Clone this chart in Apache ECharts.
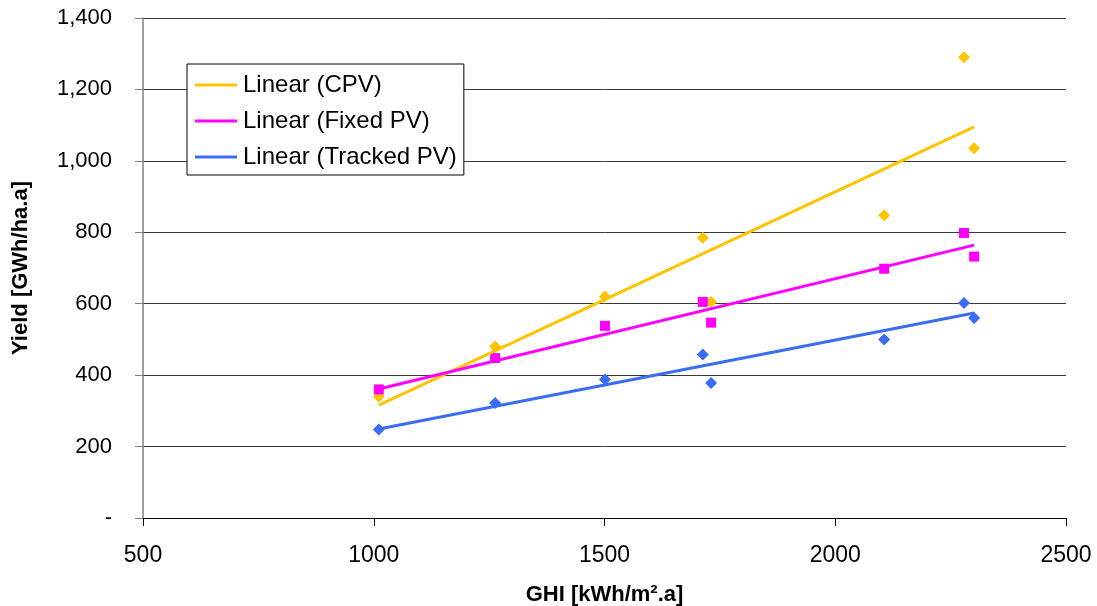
<!DOCTYPE html>
<html><head><meta charset="utf-8">
<script src="https://cdn.jsdelivr.net/npm/echarts@6/dist/echarts.min.js"></script>
<style>html,body{margin:0;padding:0;background:#fff}#c{width:1097px;height:606px}</style>
</head><body><div id="c"></div>
<script>
const ghi = [1011, 1263, 1501, 1713, 1731, 2106, 2279, 2301];
const cpv = [340, 480, 620, 785, 605, 848, 1290, 1035];
const fixedPV = [360, 448, 538, 605, 547, 698, 798, 732];
const trackedPV = [248, 322, 388, 458, 378, 500, 602, 560];
const trendX = [1011, 2301];
const cpvTrend = [316, 1095];
const fixedTrend = [361, 764];
const trackedTrend = [249, 574];
const xTicks = [500, 1000, 1500, 2000, 2500];
const yTicks = [0, 200, 400, 600, 800, 1000, 1200, 1400];

const C_CPV = '#FFC400', C_FIX = '#FF00FF', C_TRK = '#3A6EF2';
const pts = (ys) => ghi.map((x, i) => [x, ys[i]]);
const tr = (ys) => trendX.map((x, i) => [x, ys[i]]);
const FONT = 'Liberation Sans, Arial, sans-serif';

const chart = echarts.init(document.getElementById('c'), null, {renderer: 'canvas'});
chart.setOption({
  animation: false,
  backgroundColor: '#fff',
  grid: {left: 143, right: 31, top: 18, bottom: 88, containLabel: false, outerBoundsMode: 'none'},
  legend: {
    left: 187, top: 64, orient: 'vertical',
    data: ['Linear (CPV)', 'Linear (Fixed PV)', 'Linear (Tracked PV)'],
    itemWidth: 42, itemHeight: 3, itemGap: 12,
    padding: [9, 7, 6, 8],
    borderColor: '#000', borderWidth: 1, backgroundColor: '#fff', borderRadius: 0,
    textStyle: {fontFamily: FONT, fontSize: 24, color: '#000', padding: [0, 0, 0, 1]},
    icon: 'rect'
  },
  xAxis: {
    type: 'value', min: 500, max: 2500, interval: 500,
    name: 'GHI [kWh/m².a]', nameLocation: 'middle', nameGap: 66,
    nameTextStyle: {fontFamily: FONT, fontSize: 22, fontWeight: 'bold', color: '#000'},
    axisLine: {show: true, lineStyle: {color: '#000', width: 1}},
    axisTick: {show: true, inside: false, length: 8, lineStyle: {color: '#000'}},
    axisLabel: {fontFamily: FONT, fontSize: 23, color: '#000', margin: 26,
      formatter: v => xTicks.includes(v) ? String(v) : ''},
    splitLine: {show: false}
  },
  yAxis: {
    type: 'value', min: 0, max: 1400, interval: 200,
    name: 'Yield [GWh/ha.a]', nameLocation: 'middle', nameGap: 111, nameRotate: 90,
    nameTextStyle: {fontFamily: FONT, fontSize: 22, fontWeight: 'bold', color: '#000'},
    axisLine: {show: true, lineStyle: {color: '#808080', width: 1.5}},
    axisTick: {show: true, inside: false, length: 8, lineStyle: {color: '#808080'}},
    axisLabel: {fontFamily: FONT, fontSize: 22, color: '#000', margin: 31,
      formatter: v => yTicks.includes(v) ? (v === 0 ? '-' : v.toLocaleString('en-US')) : ''},
    splitLine: {show: true, lineStyle: {color: '#3a3a3a', width: 1}}
  },
  series: [
    {name: 'CPV', type: 'scatter', data: pts(cpv), symbol: 'rect', symbolRotate: 45, symbolSize: 8.5,
      itemStyle: {color: C_CPV, opacity: 1}, z: 3},
    {name: 'Fixed PV', type: 'scatter', data: pts(fixedPV), symbol: 'rect', symbolSize: 10,
      itemStyle: {color: C_FIX, opacity: 1}, z: 3},
    {name: 'Tracked PV', type: 'scatter', data: pts(trackedPV), symbol: 'rect', symbolRotate: 45, symbolSize: 8.5,
      itemStyle: {color: C_TRK, opacity: 1}, z: 3},
    {name: 'Linear (CPV)', type: 'line', data: tr(cpvTrend), showSymbol: false, symbol: 'none',
      lineStyle: {color: C_CPV, width: 3}, itemStyle: {color: C_CPV}, z: 4},
    {name: 'Linear (Fixed PV)', type: 'line', data: tr(fixedTrend), showSymbol: false, symbol: 'none',
      lineStyle: {color: C_FIX, width: 3}, itemStyle: {color: C_FIX}, z: 4},
    {name: 'Linear (Tracked PV)', type: 'line', data: tr(trackedTrend), showSymbol: false, symbol: 'none',
      lineStyle: {color: C_TRK, width: 3}, itemStyle: {color: C_TRK}, z: 4}
  ]
});
</script></body></html>
